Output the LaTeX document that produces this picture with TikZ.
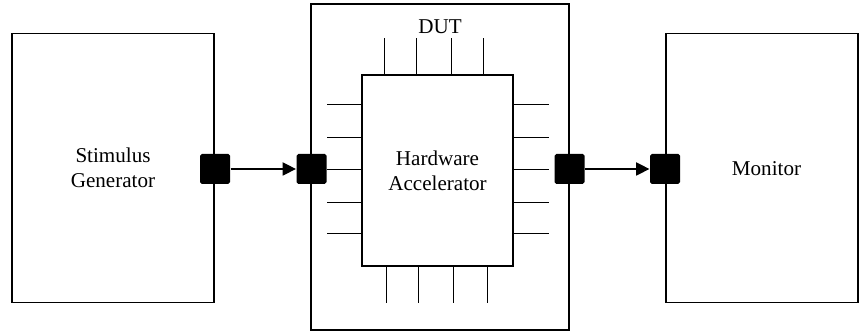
\documentclass[tikz,border=0pt]{standalone}
\usepackage{fontspec}
\setmainfont{Liberation Serif}
\usepackage{tikz}
\usetikzlibrary{arrows.meta}

\begin{document}
\begin{tikzpicture}[x=1cm, y=1cm, line width=0.7pt,
  unit/.style={draw, inner sep=0pt, align=center, font=\fontsize{12}{14.2}\selectfont},
  port/.style={fill=black, rounded corners=1pt, minimum size=0.6cm, inner sep=0pt},
  link/.style={-{Triangle[length=7.5pt, width=7.5pt]}}]
\useasboundingbox (0,0) rectangle (17.18,6.62);
% test bench blocks
\node[unit, minimum width=4.04cm, minimum height=5.38cm] (stim) at (2.26,3.26) {Stimulus\\Generator};
\node[unit, minimum width=5.16cm, minimum height=6.52cm] (dut) at (8.80,3.28) {};
\node[font=\fontsize{12}{14.2}\selectfont] (dutlbl) at (8.80,6.08) {DUT};
\node[unit, minimum width=3.02cm, minimum height=3.82cm] (accel) at (8.75,3.21) {Hardware\\Accelerator};
\node[unit, minimum width=3.84cm, minimum height=5.38cm] (mon) at (15.24,3.26) {};
\node[font=\fontsize{12}{14.2}\selectfont] (montxt) at (15.33,3.24) {Monitor};
% chip pins
\draw (accel.north west) ++(0.46,0) -- ++(0,0.72)
      (accel.north west) ++(1.10,0) -- ++(0,0.72)
      (accel.north west) ++(1.80,0) -- ++(0,0.72)
      (accel.north west) ++(2.44,0) -- ++(0,0.72);
\draw (accel.south west) ++(0.50,0) -- ++(0,-0.72)
      (accel.south west) ++(1.14,0) -- ++(0,-0.72)
      (accel.south west) ++(1.84,0) -- ++(0,-0.72)
      (accel.south west) ++(2.52,0) -- ++(0,-0.72);
\draw (accel.south west) ++(0,3.24) -- ++(-0.68,0)
      (accel.south west) ++(0,2.58) -- ++(-0.68,0)
      (accel.south west) ++(0,1.94) -- ++(-0.68,0)
      (accel.south west) ++(0,1.28) -- ++(-0.68,0)
      (accel.south west) ++(0,0.66) -- ++(-0.68,0);
\draw (accel.south east) ++(0,3.24) -- ++(0.70,0)
      (accel.south east) ++(0,2.58) -- ++(0.70,0)
      (accel.south east) ++(0,1.94) -- ++(0.70,0)
      (accel.south east) ++(0,1.28) -- ++(0.70,0)
      (accel.south east) ++(0,0.66) -- ++(0.70,0);
% ports
\node[port] (stimout) at (4.30,3.24) {};
\node[port] (dutin) at (6.23,3.24) {};
\node[port] (dutout) at (11.39,3.24) {};
\node[port] (monin) at (13.30,3.24) {};
\draw[link] (stimout) -- (dutin);
\draw[link] (dutout) -- (monin);
\end{tikzpicture}
\end{document}
